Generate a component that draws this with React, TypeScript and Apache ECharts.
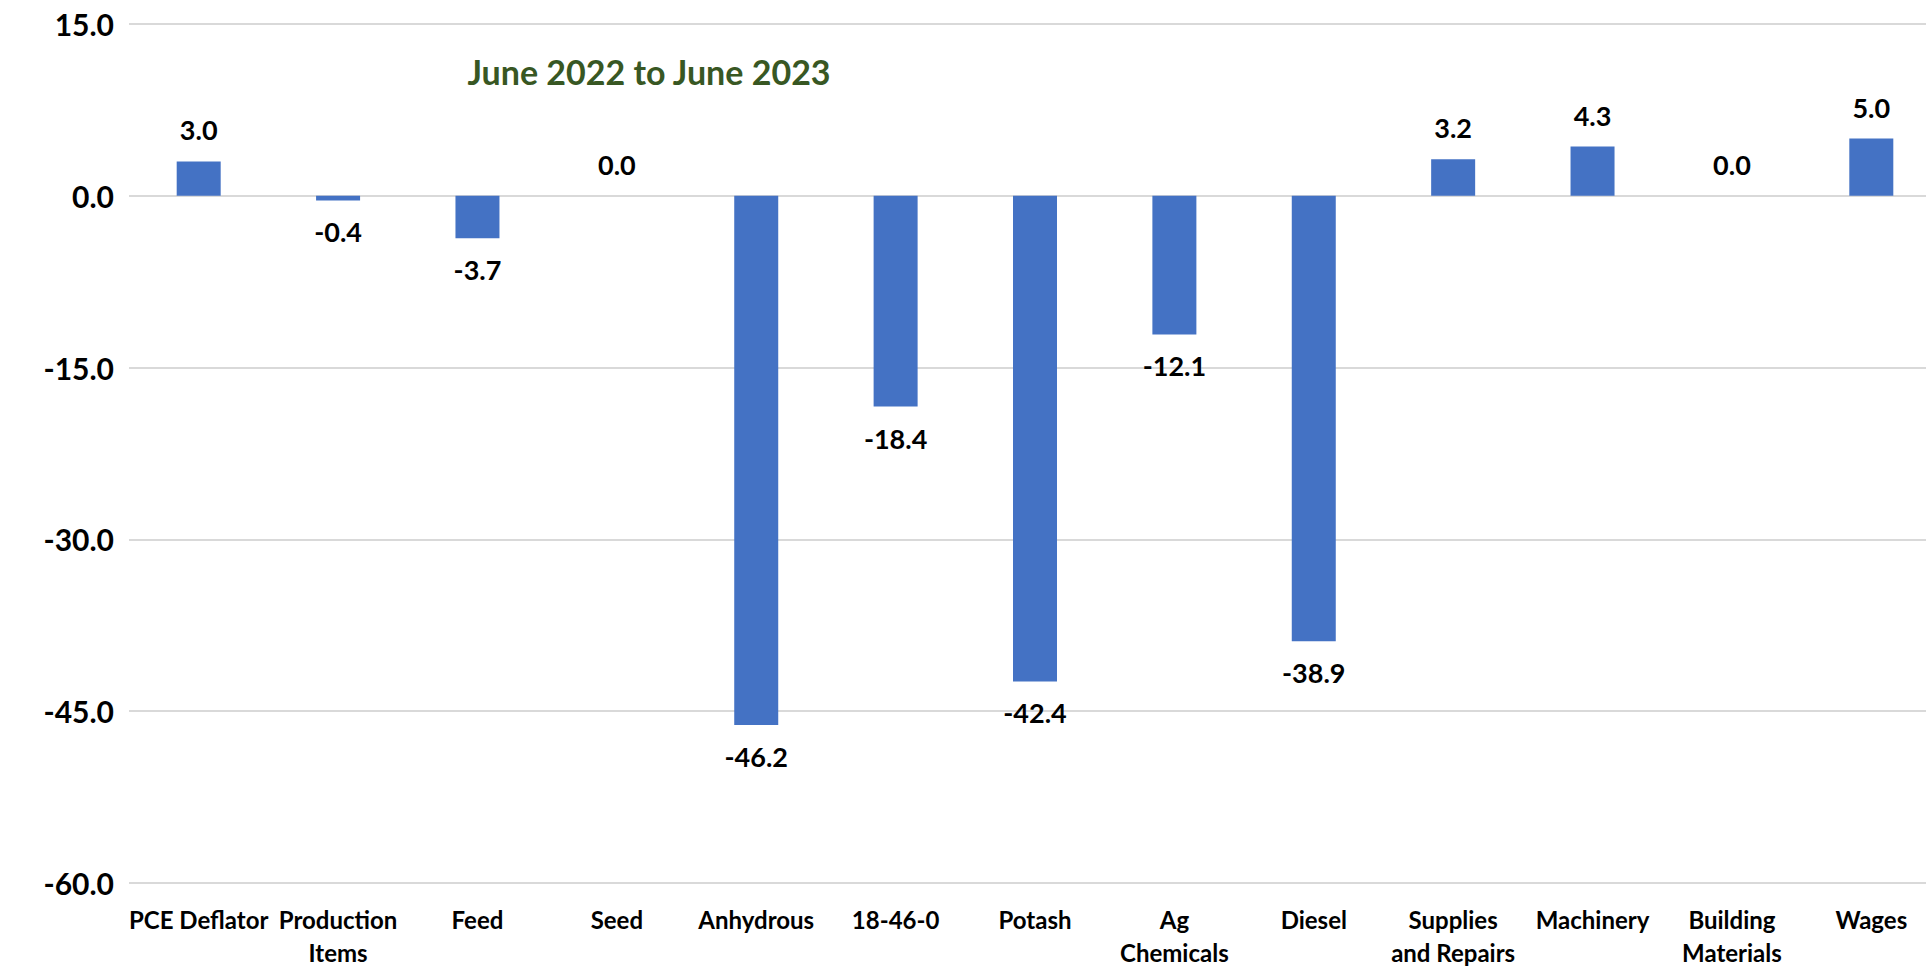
import React, { useEffect, useRef } from "react";
import * as echarts from "echarts";

const categories = [
  "PCE Deflator",
  "Production\nItems",
  "Feed",
  "Seed",
  "Anhydrous",
  "18-46-0",
  "Potash",
  "Ag\nChemicals",
  "Diesel",
  "Supplies\nand Repairs",
  "Machinery",
  "Building\nMaterials",
  "Wages",
];
const values = [3.0, -0.4, -3.7, 0.0, -46.2, -18.4, -42.4, -12.1, -38.9, 3.2, 4.3, 0.0, 5.0];
const yMin = -60;
const yMax = 15;
const yStep = 15;
const titleText = "June 2022 to June 2023";

const FONT = "Lato, 'Noto Sans', sans-serif";

export default function App() {
  const ref = useRef<HTMLDivElement>(null);
  useEffect(() => {
    if (!ref.current) return;
    const chart = echarts.init(ref.current, null, { renderer: "svg" });
    chart.setOption({
      animation: false,
      backgroundColor: "#ffffff",
      grid: { left: 129, top: 24, right: 19, height: 863, containLabel: false },
      xAxis: {
        type: "category",
        data: categories,
        axisLine: { show: false },
        axisTick: { show: false },
        axisLabel: {
          interval: 0,
          margin: 20,
          color: "#000000",
          fontFamily: FONT,
          fontWeight: "bold",
          fontSize: 24,
          lineHeight: 33,
          align: "center",
          verticalAlign: "top",
        },
      },
      yAxis: {
        type: "value",
        min: yMin,
        max: yMax,
        interval: yStep,
        axisLine: { show: false },
        axisTick: { show: false },
        splitLine: { lineStyle: { color: "#d9d9d9", width: 2 } },
        axisLabel: {
          margin: 15,
          color: "#000000",
          fontFamily: FONT,
          fontWeight: "bold",
          fontSize: 30,
          formatter: (v: number) => v.toFixed(1),
        },
      },
      graphic: [
        {
          type: "text",
          x: 649,
          y: 71,
          style: {
            text: titleText,
            fill: "#385723",
            font: `bold 34px ${FONT}`,
            textAlign: "center",
            textVerticalAlign: "middle",
          },
        },
      ],
      series: [
        {
          type: "bar",
          barWidth: 44,
          itemStyle: { color: "#4472C4" },
          data: values.map((v) => ({
            value: v,
            label: { position: v < 0 ? "bottom" : "top" },
          })),
          label: {
            show: true,
            distance: 18,
            color: "#000000",
            fontFamily: FONT,
            fontWeight: "bold",
            fontSize: 27,
            formatter: (p: any) => Number(p.value).toFixed(1),
          },
        },
      ],
    });
    return () => chart.dispose();
  }, []);
  return (
    <div
      ref={ref}
      style={{ position: "fixed", left: 0, top: 0, width: 1960, height: 969, background: "#fff" }}
    />
  );
}
